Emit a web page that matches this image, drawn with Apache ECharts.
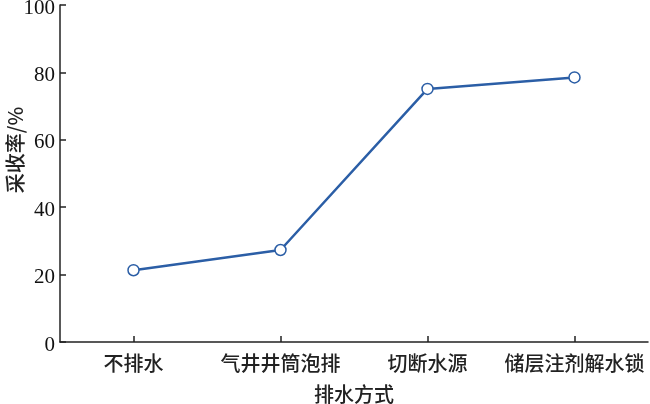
<!DOCTYPE html>
<html><head><meta charset="utf-8">
<script src="https://cdn.jsdelivr.net/npm/echarts@6/dist/echarts.min.js"></script>
<style>html,body{margin:0;padding:0;background:#fff}#c{width:650px;height:404px}</style>
</head><body><div id="c"></div>
<script>
var categories = ['不排水', '气井井筒泡排', '切断水源', '储层注剂解水锁'];
var recovery = [21.3, 27.3, 75.1, 78.5];
var yTicks = {min: 0, max: 100, interval: 20};
var yTitle = '采收率/%';
var xTitle = '排水方式';

var chart = echarts.init(document.getElementById('c'), null, {renderer: 'canvas'});
var cjk = '"Noto Sans CJK SC", sans-serif';
chart.setOption({
  animation: false,
  grid: {left: 60, right: 2, top: 5, bottom: 62, containLabel: false, outerBoundsMode: 'none'},
  graphic: [{
    type: 'text', rotation: Math.PI / 2, x: 15, y: 150,
    style: {text: yTitle, font: '500 20px "Noto Sans CJK SC", sans-serif', fill: '#222', align: 'center', verticalAlign: 'middle'}
  }],
  xAxis: {
    type: 'category', data: categories, boundaryGap: true,
    name: xTitle, nameLocation: 'middle', nameGap: 42, nameMoveOverlap: false,
    nameTextStyle: {fontFamily: cjk, fontSize: 20, fontWeight: 500, color: '#222'},
    axisLine: {lineStyle: {color: '#222', width: 1.5}},
    axisTick: {show: true, inside: true, alignWithLabel: true, interval: 0, length: 6, lineStyle: {color: '#222', width: 1.5}},
    axisLabel: {interval: 0, fontFamily: cjk, fontSize: 20, fontWeight: 500, color: '#222', margin: 11}
  },
  yAxis: {
    type: 'value', min: yTicks.min, max: yTicks.max, interval: yTicks.interval,
    splitLine: {show: false},
    axisLine: {show: true, lineStyle: {color: '#222', width: 1.5}},
    axisTick: {show: true, inside: true, length: 6, lineStyle: {color: '#222', width: 1.5}},
    axisLabel: {
      margin: 5, formatter: '{a|{value}}',
      rich: {a: {fontFamily: '"Liberation Serif", serif', fontSize: 21, color: '#111', padding: [6, 0, 0, 0]}}
    }
  },
  series: [{
    type: 'line', data: recovery,
    symbol: 'circle', symbolSize: 11,
    lineStyle: {color: '#2b5ea6', width: 2.5},
    itemStyle: {color: '#fff', borderColor: '#2b5ea6', borderWidth: 1.5}
  }]
});
</script></body></html>
